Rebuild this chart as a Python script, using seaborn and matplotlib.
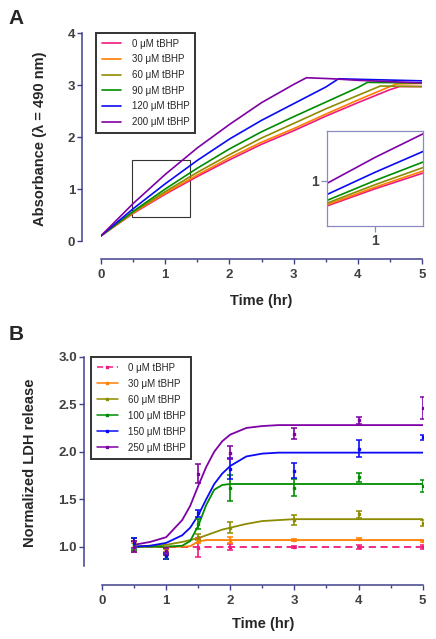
"""
Two-panel time course: absorbance (A) and normalized LDH release (B)
"""

import numpy as np
import pandas as pd
import matplotlib
matplotlib.use('Agg')
import matplotlib.pyplot as plt
from matplotlib.lines import Line2D
from matplotlib.patches import Rectangle
import seaborn as sns

# ---------------- Panel A data ----------------
a_labels = ['0 μM tBHP', '30 μM tBHP', '60 μM tBHP', '90 μM tBHP', '120 μM tBHP', '200 μM tBHP']

a_time_0 = [0, 0.5, 1, 1.5, 2, 2.5, 3, 3.5, 4, 4.5, 4.65, 5]
a_abs_0 = [0.10, 0.53, 0.90, 1.24, 1.56, 1.86, 2.12, 2.40, 2.66, 2.91, 2.97, 2.97]
a_time_30 = [0, 0.5, 1, 1.5, 2, 2.5, 3, 3.5, 4, 4.5, 4.6, 5]
a_abs_30 = [0.10, 0.54, 0.92, 1.27, 1.60, 1.90, 2.16, 2.44, 2.71, 2.97, 3.02, 3.03]
a_time_60 = [0, 0.5, 1, 1.5, 2, 2.5, 3, 3.5, 4, 4.35, 5]
a_abs_60 = [0.10, 0.55, 0.95, 1.32, 1.66, 1.98, 2.26, 2.54, 2.80, 2.98, 2.97]
a_time_90 = [0, 0.5, 1, 1.5, 2, 2.5, 3, 3.5, 4, 4.15, 5]
a_abs_90 = [0.10, 0.57, 1.00, 1.40, 1.77, 2.10, 2.39, 2.67, 2.95, 3.05, 3.04]
a_time_120 = [0, 0.5, 1, 1.5, 2, 2.5, 3, 3.5, 3.7, 4, 5]
a_abs_120 = [0.10, 0.62, 1.10, 1.55, 1.96, 2.32, 2.64, 2.96, 3.12, 3.11, 3.08]
a_time_200 = [0, 0.5, 1, 1.5, 2, 2.5, 3, 3.2, 3.6, 4, 5]
a_abs_200 = [0.10, 0.72, 1.28, 1.79, 2.24, 2.66, 3.01, 3.14, 3.12, 3.09, 3.04]

a_times = [a_time_0, a_time_30, a_time_60, a_time_90, a_time_120, a_time_200]
a_values = [a_abs_0, a_abs_30, a_abs_60, a_abs_90, a_abs_120, a_abs_200]

# ---------------- Panel B data ----------------
b_labels = ['0 μM tBHP', '30 μM tBHP', '60 μM tBHP', '100 μM tBHP', '150 μM tBHP', '250 μM tBHP']
b_time = [0.5, 1, 1.5, 2, 3, 4, 5]

ldh_0 = [1.00, 0.95, 0.99, 1.00, 1.00, 1.00, 1.00]
ldh_0_err = [0.06, 0.03, 0.10, 0.03, 0.01, 0.02, 0.02]
ldh_30 = [1.00, 0.96, 1.06, 1.07, 1.07, 1.08, 1.06]
ldh_30_err = [0.04, 0.02, 0.02, 0.03, 0.01, 0.01, 0.01]
ldh_60 = [1.01, 0.97, 1.10, 1.20, 1.28, 1.34, 1.25]
ldh_60_err = [0.05, 0.03, 0.03, 0.06, 0.05, 0.04, 0.03]
ldh_100 = [1.03, 0.89, 1.24, 1.62, 1.62, 1.73, 1.64]
ldh_100_err = [0.06, 0.02, 0.05, 0.14, 0.09, 0.05, 0.06]
ldh_150 = [1.04, 0.90, 1.35, 1.82, 1.80, 2.03, 2.15]
ldh_150_err = [0.05, 0.03, 0.04, 0.11, 0.08, 0.09, 0.03]
ldh_250 = [1.00, 0.95, 1.77, 1.99, 2.19, 2.33, 2.46]
ldh_250_err = [0.06, 0.04, 0.10, 0.07, 0.06, 0.04, 0.12]

b_means = [ldh_0, ldh_30, ldh_60, ldh_100, ldh_150, ldh_250]
b_errs = [ldh_0_err, ldh_30_err, ldh_60_err, ldh_100_err, ldh_150_err, ldh_250_err]

# fitted curves
fit_time = [0.5, 0.75, 1.0, 1.25, 1.375, 1.5, 1.625, 1.75, 1.875, 2.0, 2.25, 2.5, 2.75, 3.0, 4.0, 5.0]
fit_0 = [1.0] * 16
fit_30 = [1.0, 1.0, 1.0, 1.0, 1.005, 1.055, 1.07, 1.07, 1.07, 1.07, 1.07, 1.07, 1.07, 1.07, 1.07, 1.07]
fit_60 = [1.0, 1.01, 1.02, 1.05, 1.07, 1.09, 1.12, 1.15, 1.18, 1.20, 1.24, 1.27, 1.28, 1.29, 1.29, 1.29]
fit_100 = [1.0, 1.0, 1.0, 1.01, 1.06, 1.22, 1.44, 1.60, 1.65, 1.66, 1.66, 1.66, 1.66, 1.66, 1.66, 1.66]
fit_150 = [1.0, 1.01, 1.04, 1.12, 1.20, 1.33, 1.50, 1.66, 1.77, 1.85, 1.95, 1.98, 1.99, 1.99, 1.99, 1.99]
fit_250 = [1.02, 1.05, 1.10, 1.28, 1.43, 1.64, 1.84, 2.00, 2.11, 2.18, 2.25, 2.27, 2.28, 2.28, 2.28, 2.28]
b_fits = [fit_0, fit_30, fit_60, fit_100, fit_150, fit_250]

colors = ['#F0197D', '#FF7F00', '#8C8C00', '#008C00', '#0A0AF5', '#7F00A6']
spine_color = '#40408C'
tick_color = '#404040'

sns.set_style('ticks')
plt.rcParams['font.family'] = ['Liberation Sans', 'DejaVu Sans']


def style_axis(ax, left_off, bottom_off):
    """GraphPad-like detached axes"""
    sns.despine(ax=ax, offset={'left': left_off, 'bottom': bottom_off})
    for side in ['left', 'bottom']:
        ax.spines[side].set_color(spine_color)
        ax.spines[side].set_linewidth(1.1)
    ax.tick_params(axis='both', which='major', length=3.5, width=1.0, color=spine_color,
                   labelcolor=tick_color, labelsize=9.5, pad=1.5)
    ax.tick_params(axis='x', which='major', pad=3.5)
    ax.tick_params(axis='x', which='minor', length=2.2, width=1.0, color=spine_color)
    for lab in ax.get_xticklabels() + ax.get_yticklabels():
        lab.set_fontweight('bold')


fig = plt.figure(figsize=(4.36, 6.39), dpi=100)

# ================= Panel A =================
axA = fig.add_axes([101 / 436, 1 - 241 / 639, 321 / 436, 208 / 639])
rows = []
for lab, tt, vv in zip(a_labels, a_times, a_values):
    for t, v in zip(tt, vv):
        rows.append({'time': t, 'absorbance': v, 'label': lab})
dfA = pd.DataFrame(rows)
sns.lineplot(data=dfA, x='time', y='absorbance', hue='label', hue_order=a_labels,
             palette=colors, estimator=None, sort=False, lw=1.2, legend=False, ax=axA)
axA.set_xlim(0, 5)
axA.set_ylim(0, 4)
axA.set_xticks([0, 1, 2, 3, 4, 5])
axA.set_xticks(np.arange(0.5, 5, 1.0), minor=True)
axA.set_yticks([0, 1, 2, 3, 4])
axA.set_xlabel('Time (hr)', fontsize=10.5, fontweight='bold')
axA.set_ylabel('Absorbance (λ = 490 nm)', fontsize=10.5, fontweight='bold')
axA.xaxis.set_label_coords(0.5, -0.255)
axA.yaxis.set_label_coords(-0.168, 0.493)
style_axis(axA, 13.7, 13)

# zoom box
axA.add_patch(Rectangle((0.48, 0.46), 0.91, 1.1, fill=False, edgecolor='#333333', lw=0.8))

handlesA = [Line2D([], [], color=c, lw=1.2) for c in colors]
legA = axA.legend(handlesA, a_labels, loc='upper left', bbox_to_anchor=(-0.016, 1.0),
                  borderaxespad=0, frameon=True, fancybox=False, fontsize=7,
                  handlelength=2.0, handletextpad=1.1, labelspacing=0.58, borderpad=0.6)
legA.get_frame().set_edgecolor('black')
legA.get_frame().set_linewidth(1.4)

# inset
axI = fig.add_axes([327 / 436, 1 - 226 / 639, 96 / 436, 95 / 639])
sns.lineplot(data=dfA, x='time', y='absorbance', hue='label', hue_order=a_labels,
             palette=colors, estimator=None, sort=False, lw=1.2, legend=False, ax=axI)
axI.set_xlim(0.72, 1.28)
axI.set_ylim(0.45, 1.6)
axI.set_xticks([1])
axI.set_yticks([1])
axI.set_xlabel('')
axI.set_ylabel('')
for s in axI.spines.values():
    s.set_color('#8A8AC0')
    s.set_linewidth(0.9)
axI.tick_params(length=4, width=0.9, color='#8A8AC0', labelcolor=tick_color, labelsize=10, pad=2)
for lab in axI.get_xticklabels() + axI.get_yticklabels():
    lab.set_fontweight('bold')

# ================= Panel B =================
axB = fig.add_axes([102 / 436, 1 - 565.7 / 639, 320.7 / 436, 209 / 639])
rows = []
for lab, ff in zip(b_labels, b_fits):
    for t, v in zip(fit_time, ff):
        rows.append({'time': t, 'ldh': v, 'label': lab})
dfB = pd.DataFrame(rows)
dash_map = {lab: ((4, 2.5) if i == 0 else '') for i, lab in enumerate(b_labels)}
sns.lineplot(data=dfB, x='time', y='ldh', hue='label', hue_order=b_labels, style='label',
             style_order=b_labels, dashes=dash_map, palette=colors, estimator=None,
             sort=False, lw=1.3, legend=False, ax=axB)
for c, m, e in zip(colors, b_means, b_errs):
    axB.errorbar(b_time, m, yerr=e, fmt='s', ms=2.0, color=c, ecolor=c,
                 elinewidth=1.2, capsize=2, capthick=1.1, lw=0)
axB.set_xlim(0, 5)
axB.set_ylim(0.8, 3.0)
axB.set_xticks([0, 1, 2, 3, 4, 5])
axB.set_xticks(np.arange(0.5, 5, 1.0), minor=True)
axB.set_yticks([1.0, 1.5, 2.0, 2.5, 3.0])
axB.set_yticklabels(['1.0', '1.5', '2.0', '2.5', '3.0'])
axB.set_xlabel('Time (hr)', fontsize=10.5, fontweight='bold')
axB.set_ylabel('Normalized LDH release', fontsize=10.5, fontweight='bold')
axB.xaxis.set_label_coords(0.502, -0.244)
axB.yaxis.set_label_coords(-0.203, 0.494)
style_axis(axB, 13, 13.9)

handlesB = []
for i, c in enumerate(colors):
    handlesB.append(Line2D([], [], color=c, lw=1.1, ls=(0, (4, 2.5)) if i == 0 else '-',
                           marker='s', ms=1.6))
legB = axB.legend(handlesB, b_labels, loc='upper left', bbox_to_anchor=(-0.035, 1.0),
                  borderaxespad=0, frameon=True, fancybox=False, fontsize=7,
                  handlelength=2.2, handletextpad=1.0, labelspacing=0.62, borderpad=0.6)
legB.get_frame().set_edgecolor('black')
legB.get_frame().set_linewidth(1.4)

fig.text(8 / 436, 1 - 9 / 639, 'A', fontsize=15, fontweight='bold', va='top', ha='left')
fig.text(9 / 436, 1 - 325 / 639, 'B', fontsize=15, fontweight='bold', va='top', ha='left')

fig.savefig('out.png', dpi=100)
